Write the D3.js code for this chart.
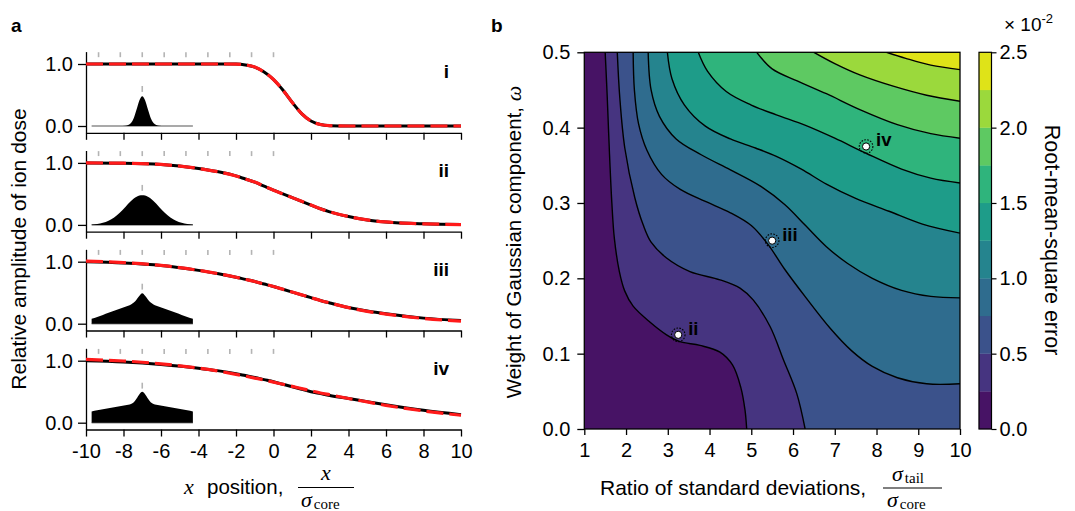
<!DOCTYPE html>
<html><head><meta charset="utf-8">
<script src="https://cdn.jsdelivr.net/npm/d3@7"></script>
<style>
body{margin:0;background:#fff}
text{font-family:"Liberation Sans",Arial,sans-serif;fill:#000}
.serif{font-family:"Liberation Serif","DejaVu Serif",serif}
</style>
</head><body>
<svg id="c" width="1075" height="511"></svg>
<script>
// ---------- DATA ----------
// Panel a: dose profiles
const xGrid   = [-10,-8,-6,-4,-3,-2,-1.5,-1,-0.5,0,0.5,1,1.5,2,2.5,3,4,5,6,8,10];
const measI   = [1,1,1,1,1,0.998,0.985,0.95,0.87,0.75,0.58,0.38,0.2,0.08,0.025,0.006,0,0,0,0,0];
const fitI    = [1,1,1,1,1,0.998,0.985,0.95,0.87,0.75,0.58,0.38,0.2,0.08,0.025,0.006,0,0,0,0,0];
const measII  = [1.0,0.995,0.975,0.91,0.86,0.79,0.74,0.69,0.625,0.56,0.50,0.44,0.38,0.32,0.26,0.21,0.135,0.08,0.048,0.018,0.006];
const fitII   = [1.0,0.995,0.975,0.91,0.86,0.79,0.74,0.69,0.625,0.56,0.50,0.44,0.38,0.32,0.26,0.21,0.135,0.08,0.048,0.018,0.006];
const measIII = [1.0,0.98,0.94,0.86,0.81,0.75,0.715,0.68,0.64,0.6,0.555,0.51,0.465,0.42,0.375,0.335,0.26,0.205,0.16,0.09,0.05];
const fitIII  = [1.01,0.985,0.94,0.86,0.81,0.75,0.715,0.68,0.64,0.6,0.555,0.51,0.465,0.42,0.375,0.335,0.26,0.2,0.155,0.085,0.042];
const measIV  = [1.0,0.98,0.94,0.88,0.84,0.79,0.76,0.73,0.695,0.66,0.62,0.58,0.54,0.5,0.47,0.44,0.39,0.34,0.29,0.2,0.13];
const fitIV   = [1.02,0.995,0.95,0.88,0.835,0.78,0.75,0.72,0.69,0.655,0.62,0.585,0.55,0.515,0.48,0.45,0.39,0.335,0.28,0.19,0.12];
const panelNames = ["i","ii","iii","iv"];
// beam positions (gray marks)
const beamPos = [-9.33,-8.17,-7,-5.83,-4.67,-3.5,-2.33,-1.17,0];
const insetCenter = -7;
// inset beam profile shapes (offset from centre, amplitude)
const insetDx  = [-2.7,-2.4,-2.1,-1.8,-1.5,-1.2,-0.9,-0.6,-0.45,-0.3,-0.15,0,0.15,0.3,0.45,0.6,0.9,1.2,1.5,1.8,2.1,2.4,2.7];
const insetI   = [0,0,0,0,0,0,0.005,0.05,0.13,0.27,0.415,0.48,0.415,0.27,0.13,0.05,0.005,0,0,0,0,0,0];
const insetII  = [0.006,0.015,0.033,0.065,0.12,0.195,0.29,0.385,0.425,0.455,0.475,0.48,0.475,0.455,0.425,0.385,0.29,0.195,0.12,0.065,0.033,0.015,0.006];
const insetIII = [0.08,0.11,0.14,0.175,0.21,0.24,0.275,0.31,0.34,0.39,0.45,0.49,0.45,0.39,0.34,0.31,0.275,0.24,0.21,0.175,0.14,0.11,0.08];
const insetIV  = [0.18,0.2,0.215,0.235,0.25,0.265,0.28,0.3,0.33,0.39,0.46,0.5,0.46,0.39,0.33,0.3,0.28,0.265,0.25,0.235,0.215,0.2,0.18];
const xTicksA = [-10,-8,-6,-4,-2,0,2,4,6,8,10];

// Panel b: RMSE contour map, contour lines [ratio, omega]
const levels = [0,0.25,0.5,0.75,1.0,1.25,1.5,1.75,2.0,2.25,2.5];
const contour025 = [[1.50,0.5],[1.55,0.44],[1.60,0.37],[1.66,0.30],[1.72,0.253],[1.84,0.209],[1.97,0.183],[2.17,0.163],[2.57,0.142],[2.97,0.125],[3.29,0.116],[3.77,0.111],[4.25,0.102],[4.55,0.085],[4.75,0.055],[4.85,0.025],[4.89,0]];
const contour050 = [[1.79,0.5],[1.85,0.44],[1.97,0.373],[2.21,0.307],[2.41,0.271],[2.60,0.248],[2.97,0.227],[3.53,0.209],[4.25,0.198],[4.73,0.187],[5.05,0.171],[5.45,0.136],[5.77,0.092],[6.09,0.047],[6.29,0]];
const contour075 = [[2.17,0.5],[2.2,0.45],[2.3,0.405],[2.5,0.37],[2.85,0.338],[3.3,0.318],[3.9,0.302],[4.5,0.287],[5.0,0.27],[5.4,0.245],[5.8,0.212],[6.3,0.175],[6.9,0.133],[7.4,0.104],[7.9,0.083],[8.5,0.068],[9.2,0.06],[10,0.06]];
const contour100 = [[2.53,0.5],[2.6,0.45],[2.8,0.415],[3.2,0.385],[3.8,0.364],[4.5,0.344],[5.2,0.323],[5.8,0.298],[6.3,0.27],[6.8,0.242],[7.3,0.22],[7.9,0.2],[8.6,0.184],[9.3,0.176],[10,0.174]];
const contour125 = [[2.99,0.5],[3.1,0.465],[3.4,0.43],[3.9,0.402],[4.5,0.385],[5.1,0.373],[5.6,0.362],[6.2,0.345],[6.8,0.325],[7.5,0.306],[8.3,0.289],[9.1,0.272],[10,0.26]];
const contour150 = [[3.73,0.5],[3.95,0.475],[4.4,0.448],[5.0,0.43],[5.6,0.417],[6.3,0.403],[7.0,0.386],[7.75,0.366],[8.6,0.345],[9.3,0.333],[10,0.3265]];
const contour175 = [[5.13,0.5],[5.5,0.478],[6.1,0.462],[6.8,0.445],[7.6,0.424],[8.5,0.404],[9.3,0.392],[10,0.386]];
const contour200 = [[6.5,0.5],[7.0,0.485],[7.6,0.47],[8.4,0.455],[9.2,0.443],[10,0.435]];
const contour225 = [[8.24,0.5],[8.7,0.492],[9.3,0.483],[10,0.477]];
const contourLines = [contour025,contour050,contour075,contour100,contour125,contour150,contour175,contour200,contour225];
// highlighted cases
const caseNames = ["ii","iii","iv"];
const caseRatio = [3.25,5.5,7.75];
const caseOmega = [0.125,0.25,0.375];
const xTicksB = [1,2,3,4,5,6,7,8,9,10];
const yTicksB = [0,0.1,0.2,0.3,0.4,0.5];
const cbTicks = [0,0.5,1.0,1.5,2.0,2.5];

// ---------- DRAW ----------
const svg = d3.select('#c');
const FS = 20;      // tick labels
const TS = 21;      // axis titles
const fmtHy = d => String(d);   // hyphen-minus like reference

// Panel labels
svg.append('text').attr('x',11).attr('y',32).attr('font-size',19).attr('font-weight','bold').text('a');
svg.append('text').attr('x',491).attr('y',32).attr('font-size',19).attr('font-weight','bold').text('b');

// ----- Panel a -----
const xA = d3.scaleLinear().domain([-10,10]).range([86,461]);
const meas = [measI,measII,measIII,measIV];
const fits = [fitI,fitII,fitIII,fitIV];
const insets = [insetI,insetII,insetIII,insetIV];
const offs = [0,98.9,197.7,296.7];

offs.forEach((off,k)=>{
  const y = d3.scaleLinear().domain([-0.11,1.2]).range([126+off+0.11*62, 126+off-1.2*62]);
  const g = svg.append('g');
  const ya = g.append('g').attr('transform','translate(86,0)')
    .call(d3.axisLeft(y).tickValues([0,1]).tickFormat(d3.format('.1f')).tickSize(8).tickSizeOuter(0).tickPadding(5));
  const xa = g.append('g').attr('transform',`translate(0,${y(-0.11)})`)
    .call(d3.axisBottom(xA).tickValues(xTicksA).tickSize(7).tickSizeOuter(0).tickPadding(7)
      .tickFormat(k===3? fmtHy : ''));
  [ya,xa].forEach(a=>{
    a.selectAll('path,line').attr('stroke','#000').attr('stroke-width',1.3);
    a.selectAll('text').attr('font-size',FS).attr('font-family','"Liberation Sans",Arial,sans-serif');
  });
  g.selectAll('.bm').data(beamPos).join('line')
    .attr('x1',d=>xA(d)).attr('x2',d=>xA(d)).attr('y1',y(1.19)).attr('y2',y(1.11))
    .attr('stroke','#b4b4b4').attr('stroke-width',1.6);
  g.append('line').attr('x1',xA(insetCenter+insetDx[0])).attr('x2',xA(insetCenter+insetDx[insetDx.length-1]))
    .attr('y1',y(0)).attr('y2',y(0)).attr('stroke','#8c8c8c').attr('stroke-width',1.5);
  const area = d3.area().x((d,i)=>xA(insetCenter+insetDx[i])).y0(y(0)).y1(d=>y(d)).curve(d3.curveMonotoneX);
  g.append('path').attr('d',area(insets[k])).attr('fill','#000');
  g.append('line').attr('x1',xA(insetCenter)).attr('x2',xA(insetCenter)).attr('y1',y(0.645)).attr('y2',y(0.55))
    .attr('stroke','#b4b4b4').attr('stroke-width',1.6);
  const line = d3.line().x((d,i)=>xA(xGrid[i])).y(d=>y(d)).curve(d3.curveMonotoneX);
  g.append('path').attr('d',line(meas[k])).attr('fill','none').attr('stroke','#000').attr('stroke-width',3);
  g.append('path').attr('d',line(fits[k])).attr('fill','none').attr('stroke','#ff1a1a').attr('stroke-width',3.2)
    .attr('stroke-dasharray','17 6');
  g.append('text').attr('x',449).attr('y',y(0.79)+1).attr('text-anchor','end')
    .attr('font-size',19).attr('font-weight','bold').text(panelNames[k]);
});
svg.append('text').attr('transform','translate(26,249) rotate(-90)').attr('text-anchor','middle')
  .attr('font-size',TS).text('Relative amplitude of ion dose');
// x label a
svg.append('text').attr('class','serif').attr('x',184).attr('y',494).attr('font-size',22).attr('font-style','italic').text('x');
svg.append('text').attr('x',207).attr('y',494).attr('font-size',20.5).text('position,');
svg.append('line').attr('x1',298).attr('x2',354).attr('y1',487.5).attr('y2',487.5).attr('stroke','#000').attr('stroke-width',1.2);
svg.append('text').attr('class','serif').attr('x',326).attr('y',480).attr('text-anchor','middle').attr('font-size',22).attr('font-style','italic').text('x');
const denA = svg.append('text').attr('class','serif').attr('x',301).attr('y',507);
denA.append('tspan').attr('font-size',22).attr('font-style','italic').text('σ');
denA.append('tspan').attr('font-size',15).attr('dy',2).attr('dx',2).text('core');

// ----- Panel b -----
const xB = d3.scaleLinear().domain([1,10]).range([584.3,960]);
const yB = d3.scaleLinear().domain([0,0.5]).range([429,52.3]);
const col = i => d3.interpolateViridis((i+0.5)/10);

svg.append('defs').append('clipPath').attr('id','clipB').append('rect')
  .attr('x',xB(1)).attr('y',yB(0.5)).attr('width',xB(10)-xB(1)).attr('height',yB(0)-yB(0.5));
const gb = svg.append('g').attr('clip-path','url(#clipB)');
gb.append('rect').attr('x',xB(1)).attr('y',yB(0.5)).attr('width',xB(10)-xB(1)).attr('height',yB(0)-yB(0.5)).attr('fill',col(0));
const cl = d3.line().x(d=>xB(d[0])).y(d=>yB(d[1])).curve(d3.curveCatmullRom.alpha(0.5));
contourLines.forEach((pts,i)=>{
  const last = pts[pts.length-1];
  const extra = last[1] <= 1e-6 ? [[10.2,-0.01],[10.2,0.51]] : [[10.2,last[1]],[10.2,0.51]];
  const first = pts[0];
  const d = cl(pts) + extra.map(p=>`L${xB(p[0])},${yB(p[1])}`).join('') + `L${xB(first[0])},${yB(0.51)}Z`;
  gb.append('path').attr('d',d).attr('fill',col(i+1)).attr('stroke',col(i+1)).attr('stroke-width',0.5);
});
contourLines.forEach(pts=>{
  gb.append('path').attr('d',cl(pts)).attr('fill','none').attr('stroke','#000').attr('stroke-width',1.4);
});
caseNames.forEach((n,i)=>{
  const cx = xB(caseRatio[i]), cy = yB(caseOmega[i]);
  svg.append('circle').attr('cx',cx).attr('cy',cy).attr('r',6.8).attr('fill','none').attr('stroke','#000')
    .attr('stroke-width',1.1).attr('stroke-dasharray','1.6 1.4');
  svg.append('circle').attr('cx',cx).attr('cy',cy).attr('r',3.6).attr('fill','#fff').attr('stroke','#000').attr('stroke-width',1);
  svg.append('text').attr('x',cx+10).attr('y',cy).attr('font-size',18.5).attr('font-weight','bold').text(n);
});
svg.append('rect').attr('x',xB(1)).attr('y',yB(0.5)).attr('width',xB(10)-xB(1)).attr('height',yB(0)-yB(0.5))
  .attr('fill','none').attr('stroke','#000').attr('stroke-width',1.3);
const xbA = svg.append('g').attr('transform',`translate(0,${yB(0)})`)
  .call(d3.axisBottom(xB).tickValues(xTicksB).tickFormat(d3.format('d')).tickSize(6).tickSizeOuter(0).tickPadding(8));
const ybA = svg.append('g').attr('transform',`translate(${xB(1)},0)`)
  .call(d3.axisLeft(yB).tickValues(yTicksB).tickFormat(d3.format('.1f')).tickSize(7).tickSizeOuter(0).tickPadding(7));
[xbA,ybA].forEach(a=>{
  a.select('.domain').remove();
  a.selectAll('line').attr('stroke','#000').attr('stroke-width',1.3);
  a.selectAll('text').attr('font-size',FS).attr('font-family','"Liberation Sans",Arial,sans-serif');
});
const ylb = svg.append('text').attr('transform','translate(521,242) rotate(-90)').attr('text-anchor','middle').attr('font-size',20.5);
ylb.append('tspan').text('Weight of Gaussian component, ');
ylb.append('tspan').attr('class','serif').attr('font-style','italic').attr('font-size',22).text('ω');
svg.append('text').attr('x',600).attr('y',495).attr('font-size',TS).text('Ratio of standard deviations,');
svg.append('line').attr('x1',883).attr('x2',942).attr('y1',488).attr('y2',488).attr('stroke','#000').attr('stroke-width',1.2);
const numB = svg.append('text').attr('class','serif').attr('x',892).attr('y',481);
numB.append('tspan').attr('font-size',22).attr('font-style','italic').text('σ');
numB.append('tspan').attr('font-size',15).attr('dy',2).attr('dx',2).text('tail');
const denB = svg.append('text').attr('class','serif').attr('x',887).attr('y',507);
denB.append('tspan').attr('font-size',22).attr('font-style','italic').text('σ');
denB.append('tspan').attr('font-size',15).attr('dy',2).attr('dx',2).text('core');

// colorbar
const cbY = d3.scaleLinear().domain([0,2.5]).range([429,52.3]);
const cbX = 979, cbW = 12.5;
const bands = d3.range(levels.length-1);
svg.selectAll('.cb').data(bands).join('rect')
  .attr('x',cbX).attr('width',cbW)
  .attr('y',i=>cbY(levels[i+1])).attr('height',i=>cbY(levels[i])-cbY(levels[i+1]))
  .attr('fill',i=>col(i)).attr('stroke',i=>col(i)).attr('stroke-width',0.3);
svg.append('rect').attr('x',cbX).attr('y',cbY(2.5)).attr('width',cbW).attr('height',cbY(0)-cbY(2.5))
  .attr('fill','none').attr('stroke','#000').attr('stroke-width',1.2);
const cbA = svg.append('g').attr('transform',`translate(${cbX+cbW},0)`)
  .call(d3.axisRight(cbY).tickValues(cbTicks).tickFormat(d3.format('.1f')).tickSize(5).tickSizeOuter(0).tickPadding(3));
cbA.select('.domain').remove();
cbA.selectAll('line').attr('stroke','#000').attr('stroke-width',1.2);
cbA.selectAll('text').attr('font-size',FS).attr('font-family','"Liberation Sans",Arial,sans-serif');
const mult = svg.append('text').attr('x',1004).attr('y',31).attr('font-size',19);
mult.append('tspan').text('× 10');
mult.append('tspan').attr('font-size',13).attr('dy',-8).text('-2');
svg.append('text').attr('transform','translate(1045,240) rotate(90)').attr('text-anchor','middle')
  .attr('font-size',21.5).text('Root-mean-square error');
</script>
</body></html>
